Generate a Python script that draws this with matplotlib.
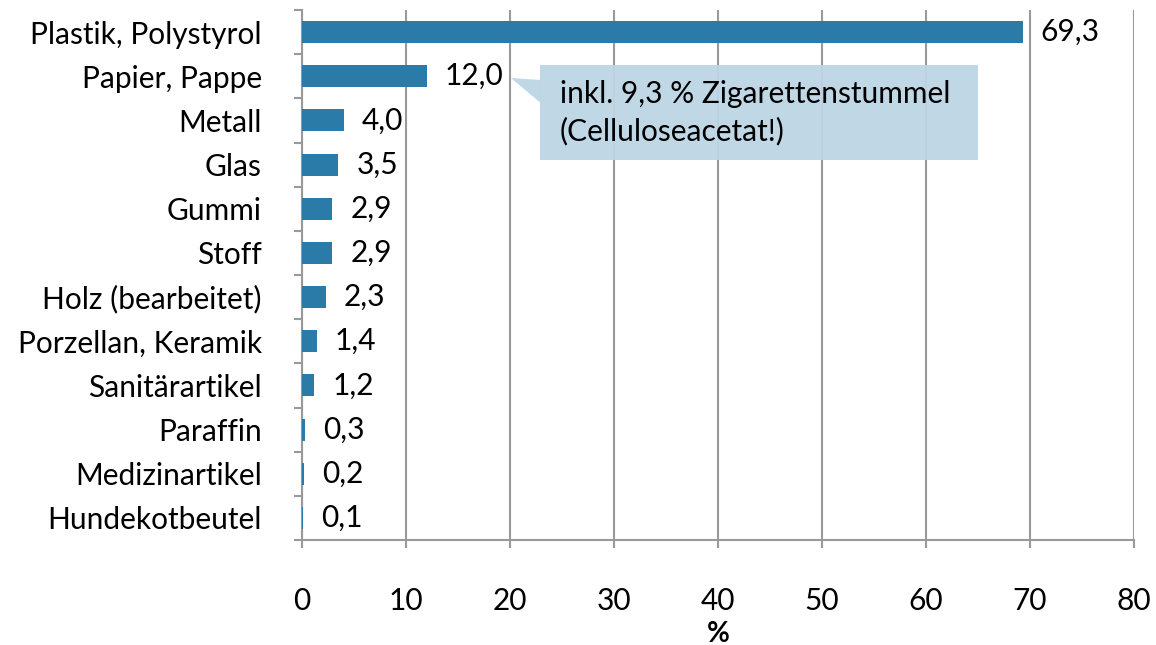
import matplotlib
matplotlib.use("Agg")
import matplotlib.pyplot as plt
from matplotlib.patches import Polygon, Rectangle

categories = ["Plastik, Polystyrol", "Papier, Pappe", "Metall", "Glas", "Gummi", "Stoff",
              "Holz (bearbeitet)", "Porzellan, Keramik", "Sanitärartikel", "Paraffin",
              "Medizinartikel", "Hundekotbeutel"]
values = [69.3, 12.0, 4.0, 3.5, 2.9, 2.9, 2.3, 1.4, 1.2, 0.3, 0.2, 0.1]
xticks = [0, 10, 20, 30, 40, 50, 60, 70, 80]
xlabel = "%"
note = "inkl. 9,3 % Zigarettenstummel\n(Celluloseacetat!)"

plt.rcParams['font.family'] = ['Lato', 'DejaVu Sans']
FS = 21.5

fig = plt.figure(figsize=(11.56, 6.45), dpi=100)
ax = fig.add_axes([302/1156, 1-540/645, (1134-302)/1156, 530/645])

bar_color = "#2A7BA8"
grid_color = "#999999"
ypos = list(range(len(categories)))
ax.barh(ypos, values, height=0.5, color=bar_color, zorder=3)

for y, v in zip(ypos, values):
    ax.annotate(f"{v:.1f}".replace(".", ","), (v, y), xytext=(13, 0), textcoords="offset points",
                va="center", ha="left", fontsize=FS, color="black", zorder=5)

ax.set_xlim(0, 80)
ax.set_ylim(len(categories) - 0.5, -0.5)
ax.set_xticks(xticks)
ax.set_xticklabels([str(t) for t in xticks], fontsize=FS)
ax.set_yticks(ypos)
ax.set_yticklabels(categories, fontsize=FS)
ax.set_yticks([i - 0.5 for i in range(len(categories) + 1)], minor=True)
ax.tick_params(axis="y", which="major", length=0, pad=29)
ax.tick_params(axis="y", which="minor", length=6, width=1.5, color=grid_color, direction="out")
ax.tick_params(axis="x", which="major", length=6, width=1.5, color=grid_color, direction="out", pad=28)
ax.grid(axis="x", color=grid_color, linewidth=1.5, zorder=1)
for s in ["top", "right"]:
    ax.spines[s].set_visible(False)
for s in ["left", "bottom"]:
    ax.spines[s].set_color(grid_color)
    ax.spines[s].set_linewidth(1.5)
fig.text(718/1156, 1 - 634/645, xlabel, fontsize=20, fontweight="bold", ha="center", va="center")

# callout
box_color = "#BDD5E5"
bx0, bx1 = 22.9, 65.0
by0, by1 = 0.745, 2.896
ax.add_patch(Rectangle((bx0, by0), bx1 - bx0, by1 - by0, facecolor=box_color,
                       edgecolor="none", zorder=4, alpha=0.95))
ax.add_patch(Polygon([(20.1, 1.04), (bx0 + 0.05, 1.085), (bx0 + 0.05, 1.606)], closed=True,
                     facecolor=box_color, edgecolor="none", zorder=4, alpha=0.95))
ax.text(24.8, (by0 + by1) / 2, note, fontsize=FS, va="center", ha="left", zorder=6,
        linespacing=1.35)

fig.savefig("out.png", dpi=100)
